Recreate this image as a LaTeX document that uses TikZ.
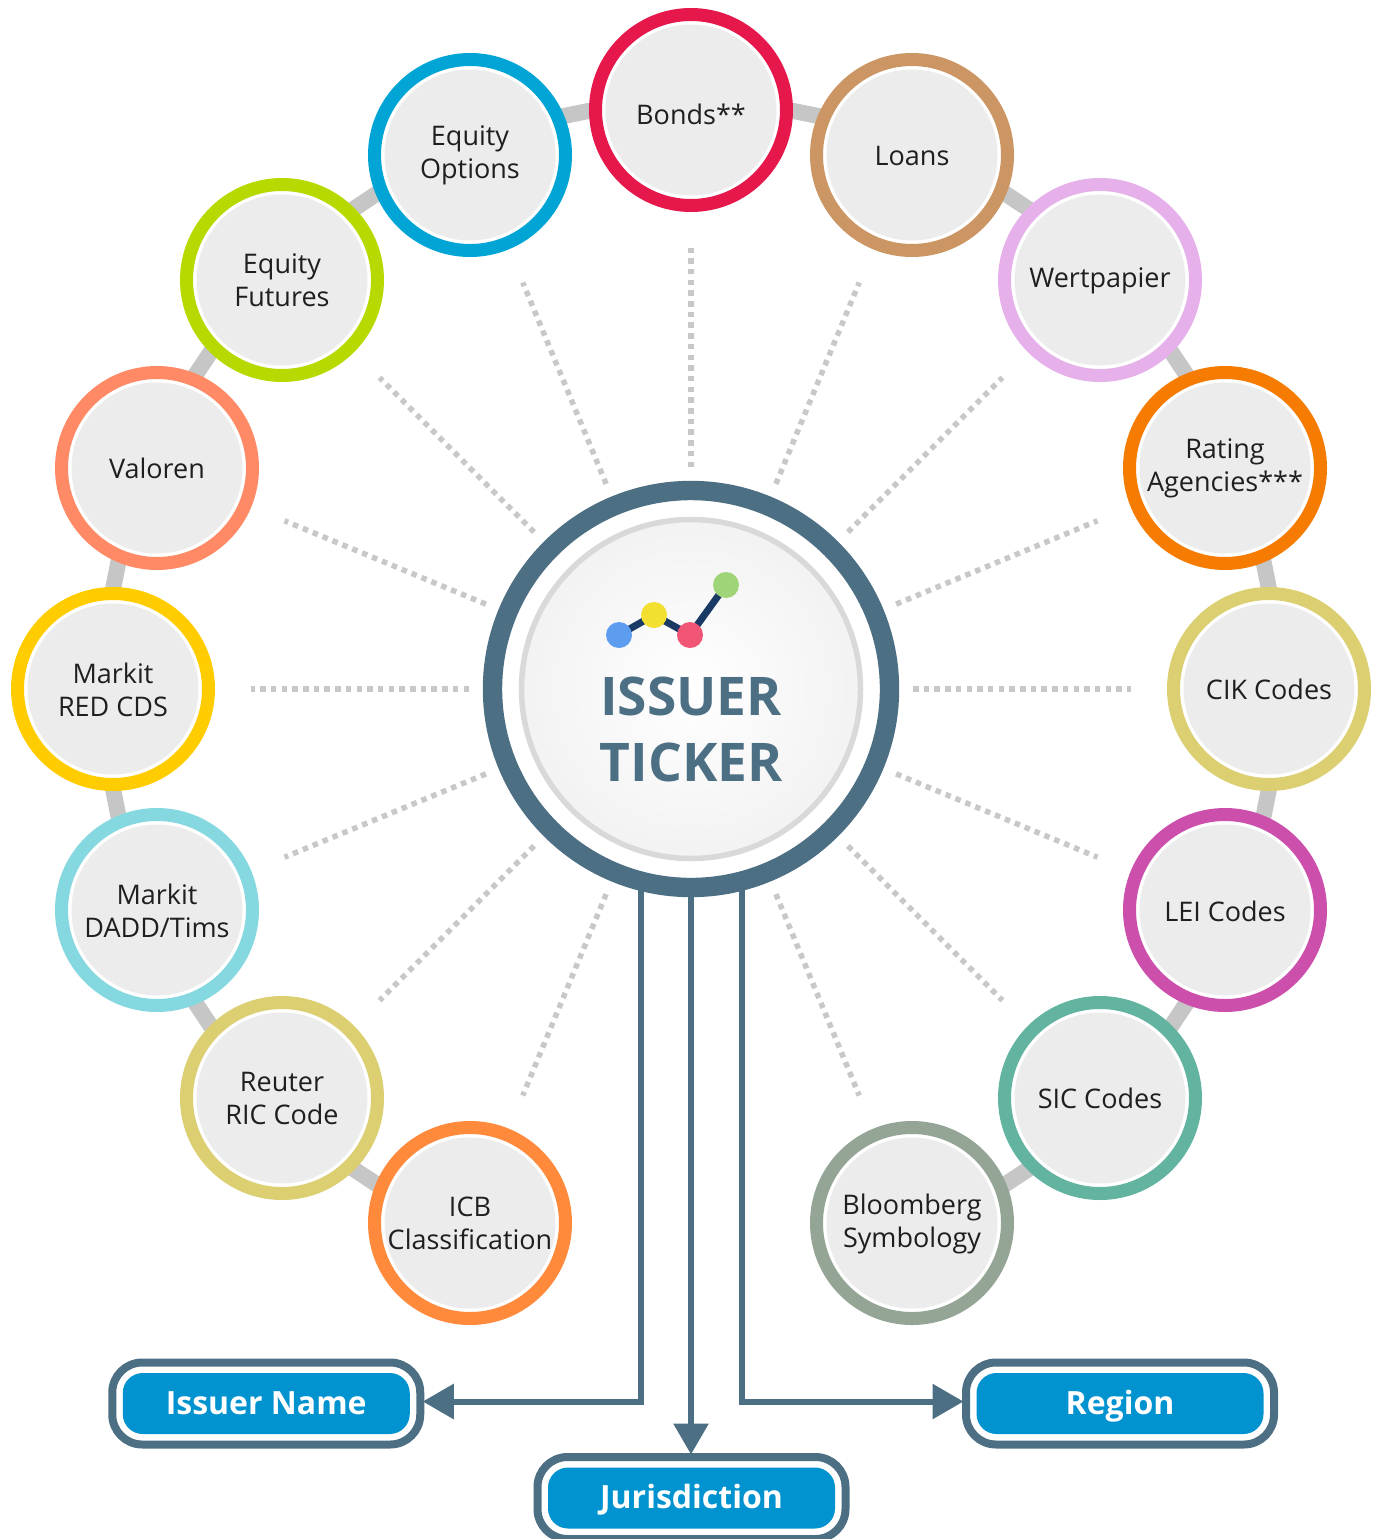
\documentclass[tikz,border=0pt]{standalone}
\usepackage{fontspec}
\setmainfont{Open Sans}
\usetikzlibrary{arrows.meta,calc}
\definecolor{steel}{HTML}{4D6F84}
\definecolor{corefill}{HTML}{ECECEC}
\definecolor{linkgray}{HTML}{C6C6C6}
\definecolor{dotgray}{HTML}{C8C8C8}
\definecolor{ink}{HTML}{1F1F1F}
\definecolor{btn}{HTML}{0093CF}
\definecolor{cBonds}{HTML}{E6174B}
\definecolor{cLoans}{HTML}{CC9664}
\definecolor{cWert}{HTML}{E6B0EA}
\definecolor{cRating}{HTML}{F57C00}
\definecolor{cCik}{HTML}{DCCF72}
\definecolor{cLei}{HTML}{CC4FAC}
\definecolor{cSic}{HTML}{62B3A0}
\definecolor{cBloom}{HTML}{94A595}
\definecolor{cIcb}{HTML}{FF8A3C}
\definecolor{cReuter}{HTML}{DCCF72}
\definecolor{cDadd}{HTML}{85D8E0}
\definecolor{cRed}{HTML}{FFCC00}
\definecolor{cVal}{HTML}{FF8A65}
\definecolor{cFut}{HTML}{B8D900}
\definecolor{cOpt}{HTML}{00A5D6}
\definecolor{iconnavy}{HTML}{1A3A66}
\definecolor{iconblue}{HTML}{5C9DF0}
\definecolor{iconyellow}{HTML}{F2DF30}
\definecolor{iconred}{HTML}{F05575}
\definecolor{icongreen}{HTML}{A0D478}
\tikzset{
  ring/.style={circle,inner sep=0pt,outer sep=0pt,minimum size=191pt,line width=13pt,fill=white},
  core/.style={circle,inner sep=0pt,outer sep=0pt,minimum size=171pt,fill=corefill},
  orbtext/.style={align=center,inner sep=0pt,text=ink,font=\fontsize{27}{33}\selectfont},
  link/.style={draw=linkgray,line width=16pt},
  spoke/.style={draw=dotgray,line width=5.5pt,dash pattern=on 5.5pt off 5.2pt,shorten <=222pt,shorten >=138pt},
  pillouter/.style={draw=steel,line width=8pt,fill=white,rounded corners=30pt,inner sep=0pt,minimum width=308pt,minimum height=82pt,outer sep=4pt},
  pillinner/.style={fill=btn,rounded corners=20pt,inner sep=0pt,minimum width=287pt,minimum height=61pt,text=white,text height=28pt,text depth=7pt,font=\fontsize{32}{38}\bfseries\selectfont},
  conn/.style={draw=steel,line width=6pt,shorten >=-1.5pt,-{Triangle[length=31pt,width=34pt]}},
  dotnode/.style={circle,inner sep=0pt,minimum size=26pt},
}
\newcommand{\orb}[6]{%
  \node[ring,draw=#4] (#1) at (#2,#3) {};
  \node[core] (#1c) at (#1) {};
  \node[orbtext] (#1t) at ([yshift=#5]#1) {#6};
}
\begin{document}
\begin{tikzpicture}[x=1pt,y=-1pt]
\useasboundingbox (0,0) rectangle (1380,1539);
% centres for links
\foreach \n/\x/\y in {bonds/691/110,loans/912/155,wert/1100/280,rating/1225/468,cik/1269/689,lei/1225/910,sic/1100/1098,bloom/912/1223,icb/470/1223,reuter/282/1098,dadd/157/910,red/113/689,val/157/468,fut/282/280,opt/470/155}
  {\coordinate (\n0) at (\x,\y);}
\coordinate (hub0) at (691,689);
% spokes
\foreach \n in {bonds,loans,wert,rating,cik,lei,sic,bloom,icb,reuter,dadd,red,val,fut,opt}
  {\draw[spoke] (hub0) -- (\n0);}
% links, each one parallel to the chord and set outward from it
\foreach \a/\b in {icb0/reuter0,reuter0/dadd0,dadd0/red0,red0/val0,val0/fut0,fut0/opt0,opt0/bonds0,bonds0/loans0,loans0/wert0,wert0/rating0,rating0/cik0,cik0/lei0,lei0/sic0,sic0/bloom0}
  {\draw[link] ($(\a)!19.5pt!90:(\b)$) -- ($(\b)!19.5pt!-90:(\a)$);}
% orbit nodes
\orb{bonds}{691}{110}{cBonds}{-4pt}{Bonds**}
\orb{loans}{912}{155}{cLoans}{-1pt}{Loans}
\orb{wert}{1100}{280}{cWert}{-1pt}{Wertpapier}
\orb{rating}{1225}{468}{cRating}{0pt}{Rating\\Agencies***}
\orb{cik}{1269}{689}{cCik}{0pt}{CIK Codes}
\orb{lei}{1225}{910}{cLei}{-1pt}{LEI Codes}
\orb{sic}{1100}{1098}{cSic}{0pt}{SIC Codes}
\orb{bloom}{912}{1223}{cBloom}{-1pt}{Bloomberg\\Symbology}
\orb{icb}{470}{1223}{cIcb}{0pt}{ICB\\Classification}
\orb{reuter}{282}{1098}{cReuter}{0pt}{Reuter\\RIC Code}
\orb{dadd}{157}{910}{cDadd}{-1pt}{Markit\\DADD/Tims}
\orb{red}{113}{689}{cRed}{-1pt}{Markit\\RED CDS}
\orb{val}{157}{468}{cVal}{0pt}{Valoren}
\orb{fut}{282}{280}{cFut}{0pt}{Equity\\Futures}
\orb{opt}{470}{155}{cOpt}{0pt}{Equity\\Options}
% pills
\node[pillouter] (issuer) at (266.25,1403.5) {};
\node[pillinner] (issuert) at (issuer) {Issuer Name};
\node[pillouter] (region) at (1120,1403.5) {};
\node[pillinner] (regiont) at (region) {Region};
\node[pillouter] (juris) at (691.5,1498) {};
\node[pillinner] (jurist) at (juris) {Jurisdiction};
% connectors
\coordinate (hubL) at (641,860);
\coordinate (hubM) at (691,860);
\coordinate (hubR) at (742,860);
\draw[conn] (hubL) |- ([yshift=2pt]issuer.east);
\draw[conn] (hubM) -- (juris.north -| hubM);
\draw[conn] (hubR) |- ([yshift=2pt]region.west);
% hub
\node[circle,inner sep=0pt,outer sep=0pt,minimum size=397pt,line width=19.4pt,draw=steel,fill=white] (hub) at (hub0) {};
\node[circle,inner sep=0pt,outer sep=0pt,minimum size=339pt,line width=5.5pt,draw=black!15,inner color=white,outer color=black!5] (hubcore) at (hub) {};
\node[align=center,inner sep=0pt,text=steel,font=\fontsize{53.3}{66}\bfseries\selectfont] (hubt) at (691,729) {ISSUER\\TICKER};
% icon
\coordinate (pA) at (619,635);
\coordinate (pB) at (654,615);
\coordinate (pC) at (690,635);
\coordinate (pD) at (726,585);
\draw[draw=iconnavy,line width=7pt] (pA) -- (pB) -- (pC) -- (pD);
\node[dotnode,fill=iconblue] (dA) at (pA) {};
\node[dotnode,fill=iconyellow] (dB) at (pB) {};
\node[dotnode,fill=iconred] (dC) at (pC) {};
\node[dotnode,fill=icongreen] (dD) at (pD) {};
\end{tikzpicture}
\end{document}
